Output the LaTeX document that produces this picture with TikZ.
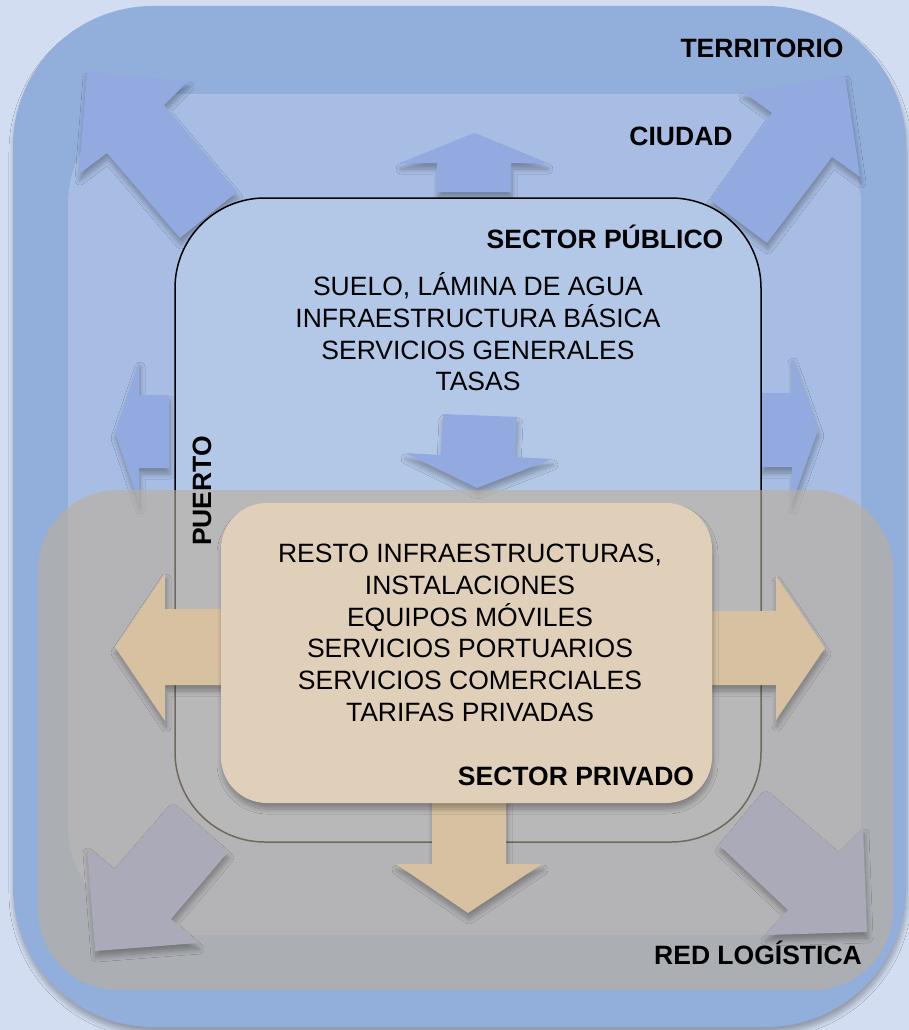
\documentclass[tikz,border=0pt]{standalone}
\usepackage{fontspec}
\setmainfont{Liberation Sans}
\usepackage{xcolor}
\usetikzlibrary{shadows.blur}

\definecolor{fondo}{RGB}{210,221,241}
\definecolor{territorio}{RGB}{146,174,218}
\definecolor{ciudad}{RGB}{168,189,227}
\definecolor{publico}{RGB}{179,200,231}
\definecolor{azulflecha}{RGB}{147,170,225}
\definecolor{redlog}{RGB}{188,174,154}
\definecolor{grisflecha}{RGB}{171,170,184}
\definecolor{tanflecha}{RGB}{215,193,161}
\definecolor{privado}{RGB}{224,208,185}

\tikzset{
  sombra/.style={blur shadow={shadow xshift=1pt,shadow yshift=-6pt,shadow blur radius=5pt,shadow blur steps=8,shadow opacity=30}},
  flecha azul/.style={fill=azulflecha,sombra},
  flecha gris/.style={fill=grisflecha,sombra},
  flecha tan/.style={fill=tanflecha,sombra},
  etiqueta/.style={font=\bfseries\fontsize{26.5}{31.7}\selectfont,inner sep=0pt},
  lista/.style={font=\fontsize{26.5}{31.7}\selectfont,align=center,inner sep=0pt}
}

\begin{document}
\begin{tikzpicture}[x=1pt,y=-1pt]
        \useasboundingbox (0,0) rectangle (909,1030);
        \fill[fondo] (0,0) rectangle (909,1030);
        % ambitos
        \fill[territorio,sombra,rounded corners=140pt] (13,6) rectangle (906,1027);
        \fill[ciudad,rounded corners=110pt] (68,94) rectangle (861,935);
        % flechas hacia la ciudad y el territorio
        \fill[flecha azul] (87,72) -- (188,81) -- (164,105) -- (237,192) -- (180,238) -- (107,153) -- (79,174) -- cycle;
        \fill[flecha azul] (743,92) -- (845,75) -- (860,177) -- (832,157) -- (767,243) -- (710,200) -- (772,113) -- cycle;
        \fill[flecha azul] (474,133) -- (547,163) -- (511,163) -- (511,192) -- (437,192) -- (437,163) -- (400,163) -- cycle;
        \fill[flecha azul] (115,432) -- (139,361) -- (139,395) -- (169,395) -- (169,468) -- (139,468) -- (139,503) -- cycle;
        \fill[flecha azul] (818,430) -- (792,503) -- (792,467) -- (761,467) -- (761,393) -- (792,393) -- (792,357) -- cycle;
        % puerto
        \draw[line width=1.5pt,fill=publico,rounded corners=90pt] (175,198) rectangle (761,842);
        \fill[flecha azul] (443,414) -- (517,417) -- (515,457) -- (552,459) -- (477,488) -- (405,453) -- (441,455) -- cycle;
        % red logistica
        \fill[redlog,fill opacity=0.6,rounded corners=80pt] (38,490) rectangle (893,990);
        \fill[flecha gris] (172,803) -- (228,852) -- (171,919) -- (198,943) -- (95,951) -- (87,847) -- (114,870) -- cycle;
        \fill[flecha gris] (765,790) -- (838,853) -- (863,828) -- (867,932) -- (765,935) -- (788,910) -- (719,845) -- cycle;
        % sector privado
        \fill[flecha tan] (115,647) -- (165,573) -- (165,609) -- (225,609) -- (225,685) -- (165,685) -- (165,721) -- cycle;
        \fill[flecha tan] (825,648) -- (776,720) -- (776,685) -- (708,685) -- (708,611) -- (776,611) -- (776,576) -- cycle;
        \fill[flecha tan] (468,913) -- (396,864) -- (432,864) -- (432,798) -- (506,798) -- (506,864) -- (542,864) -- cycle;
        \fill[privado,sombra,rounded corners=46pt] (221,503) rectangle (712,803);
        % textos
        \node[etiqueta,anchor=base] (territorio) at (762,57.5) {TERRITORIO};
        \node[etiqueta,anchor=base] (ciudad) at (681,145.5) {CIUDAD};
        \node[etiqueta,anchor=base] (publico) at (605,248.5) {SECTOR PÚBLICO};
        \node[lista] (tareas publicas) at (478,332) {SUELO, LÁMINA DE AGUA\\INFRAESTRUCTURA BÁSICA\\SERVICIOS GENERALES\\TASAS};
        \node[etiqueta,rotate=90] (puerto) at (202,491) {PUERTO};
        \node[lista] (tareas privadas) at (470,633) {RESTO INFRAESTRUCTURAS,\\INSTALACIONES\\EQUIPOS MÓVILES\\SERVICIOS PORTUARIOS\\SERVICIOS COMERCIALES\\TARIFAS PRIVADAS};
        \node[etiqueta,anchor=base] (privado) at (576,785) {SECTOR PRIVADO};
        \node[etiqueta,anchor=base] (red) at (758,964) {RED LOGÍSTICA};
    \end{tikzpicture}
\end{document}
